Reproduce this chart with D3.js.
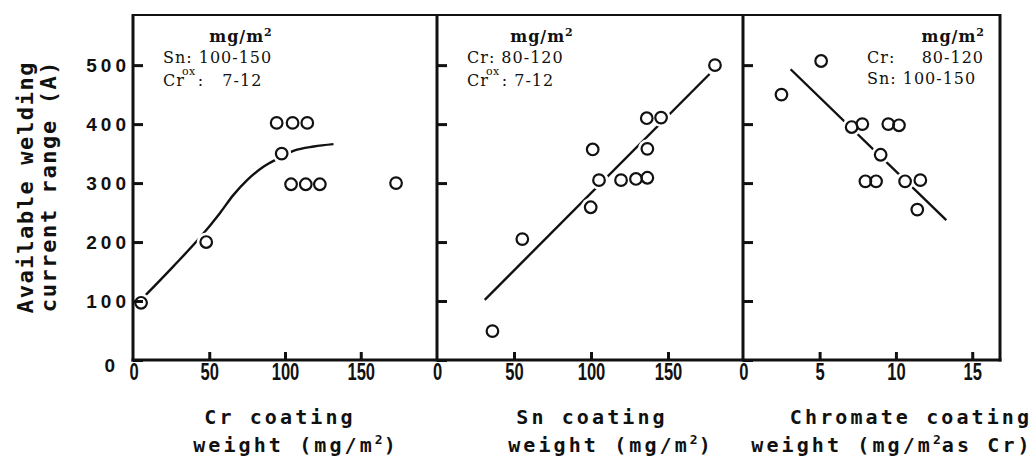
<!DOCTYPE html>
<html>
<head>
<meta charset="utf-8">
<script src="https://cdn.jsdelivr.net/npm/d3@7"></script>
<style>
body { margin: 0; background: #fff; }
.tick line { stroke: #111; stroke-width: 3; }
.ylab text { font-family: "Liberation Sans", Arial, sans-serif; font-weight: bold; font-size: 19px; letter-spacing: 4px; fill: #111; }
.xlab text { font-family: "Liberation Sans", sans-serif; font-weight: bold; font-size: 23px; fill: #111; }
.title { font-family: "DejaVu Sans Mono", monospace; font-weight: bold; font-size: 20px; letter-spacing: 3.1px; fill: #111; }
.note { font-family: "DejaVu Serif", serif; font-size: 16px; letter-spacing: 1px; fill: #111; }
</style>
</head>
<body>
<div id="container"></div>
<script>
const W = 1034, H = 459;

// panel 1: Cr coating weight
var crX = [5, 48, 94.5, 105, 114.7, 97.8, 104, 113.7, 123, 173.3];
var crY = [97, 200, 402, 402, 402, 350, 298, 298, 298, 300];
var crFitX = [8, 26, 44, 57, 66, 75, 86, 95, 106, 119, 132];
var crFitY = [110, 158, 208, 249, 280, 305, 328, 341, 355, 362, 366];

// panel 2: Sn coating weight
var snX = [180.5, 136.2, 145.5, 101.1, 136.6, 105.2, 119.5, 129.2, 136.6, 99.8, 55.4, 36];
var snY = [500, 410, 411, 357, 358, 305, 305, 307, 309, 259, 205, 49];
var snFitX = [31, 177];
var snFitY = [102, 485];

// panel 3: chromate coating weight
var chX = [5.1, 2.5, 7.1, 7.8, 9.5, 10.2, 9.0, 8.0, 8.7, 10.6, 11.6, 11.4];
var chY = [507, 450, 395, 400, 400, 398, 348, 303, 303, 303, 305, 255];
var chFitX = [3.1, 13.3];
var chFitY = [493, 237];

var yTicks = [0, 100, 200, 300, 400, 500];
var xTicksW = [0, 50, 100, 150];
var xTicksC = [0, 5, 10, 15];

var svg = d3.select("#container").append("svg")
	.attr("width", W)
	.attr("height", H);

var y = d3.scaleLinear().domain([0, 585]).range([360, 15]);

var panels = [
	{ x: d3.scaleLinear().domain([0, 200]).range([133.5, 436.5]), left: 133, right: 437, px: crX, py: crY, fx: crFitX, fy: crFitY, ticks: xTicksW, curve: d3.curveMonotoneX },
	{ x: d3.scaleLinear().domain([0, 200]).range([437, 745]), left: 437, right: 743, px: snX, py: snY, fx: snFitX, fy: snFitY, ticks: xTicksW, curve: d3.curveLinear },
	{ x: d3.scaleLinear().domain([0, 16.8]).range([743.3, 999.7]), left: 743, right: 1000, px: chX, py: chY, fx: chFitX, fy: chFitY, ticks: xTicksC, curve: d3.curveLinear }
];

// fitted lines
panels.forEach(p => {
	var line = d3.line()
		.x(d => p.x(d[0]))
		.y(d => y(d[1]))
		.curve(p.curve);
	svg.append("path")
		.attr("d", line(p.fx.map((v, i) => [v, p.fy[i]])))
		.attr("fill", "none")
		.attr("stroke", "#111")
		.attr("stroke-width", 2.4);
});

// white halos make the gaps in the lines around the circles
panels.forEach(p => {
	svg.selectAll(null)
		.data(p.px.map((v, i) => [v, p.py[i]]))
		.enter().append("circle")
		.attr("cx", d => p.x(d[0]))
		.attr("cy", d => y(d[1]))
		.attr("r", 9.5)
		.attr("fill", "#fff");
});

// frame
svg.append("line").attr("x1", 133).attr("x2", 1000).attr("y1", 15).attr("y2", 15)
	.attr("stroke", "#111").attr("stroke-width", 2);
svg.append("line").attr("x1", 131.5).attr("x2", 1001.5).attr("y1", 360).attr("y2", 360)
	.attr("stroke", "#111").attr("stroke-width", 3);
[133, 437, 743, 1000].forEach(xx => {
	svg.append("line").attr("x1", xx).attr("x2", xx).attr("y1", 14).attr("y2", 361.5)
		.attr("stroke", "#111").attr("stroke-width", 3);
});

// axes
panels.forEach((p, k) => {
	var gy = svg.append("g")
		.attr("class", "ylab")
		.attr("transform", "translate(" + p.left + ",0)")
		.call(d3.axisLeft(y).tickValues(yTicks).tickSize(-10).tickPadding(3));
	gy.select(".domain").remove();
	if (k > 0) gy.selectAll("text").remove();
	else gy.selectAll(".tick").filter(d => d == 0).select("text")
		.attr("x", -14).attr("dy", "0.6em");

	var gx = svg.append("g")
		.attr("class", "xlab")
		.attr("transform", "translate(0,360)")
		.call(d3.axisBottom(p.x).tickValues(p.ticks).tickSize(-8).tickPadding(3));
	gx.select(".domain").remove();
	gx.selectAll(".tick").filter(d => d == 0).select("line").remove();
	// tall narrow digits
	gx.selectAll(".tick text").attr("transform", "scale(0.72,1.05)");
});

// points
panels.forEach(p => {
	svg.selectAll(null)
		.data(p.px.map((v, i) => [v, p.py[i]]))
		.enter().append("circle")
		.attr("cx", d => p.x(d[0]))
		.attr("cy", d => y(d[1]))
		.attr("r", 5.8)
		.attr("fill", "none")
		.attr("stroke", "#111")
		.attr("stroke-width", 2.2);
});

// notes inside panels
function note(x, yy, s, anchor) {
	return svg.append("text")
		.attr("class", "note")
		.attr("x", x).attr("y", yy)
		.attr("text-anchor", anchor || "start")
		.style("white-space", "pre")
		.text(s);
}
function crox(x, yy, gap, rest) {
	var t = svg.append("text")
		.attr("class", "note")
		.attr("x", x).attr("y", yy)
		.style("white-space", "pre");
	t.append("tspan").text("Cr");
	t.append("tspan").attr("dx", -3).attr("dy", -11)
		.style("font-size", "11px").style("letter-spacing", "0.5px").text("ox");
	t.append("tspan").attr("dx", gap).attr("dy", 11).text(rest);
}
function unit(x, yy, anchor) {
	var t = svg.append("text")
		.attr("class", "note")
		.attr("x", x).attr("y", yy)
		.attr("text-anchor", anchor)
		.style("font-weight", "bold");
	t.append("tspan").text("mg/m");
	t.append("tspan").attr("dy", -6).style("font-size", "11px").text("2");
}

unit(241, 42, "middle");
note(163, 63, "Sn: 100-150");
crox(163, 86, 2, ":   7-12");

unit(542, 42, "middle");
note(467, 63, "Cr: 80-120");
crox(467, 86, 2, ": 7-12");

unit(985, 42, "end");
note(867, 63, "Cr:");
note(984, 63, "80-120", "end");
note(867, 84, "Sn: 100-150");

// y title
svg.append("text")
	.attr("class", "title")
	.attr("transform", "translate(33,187) rotate(-90)")
	.attr("text-anchor", "middle")
	.style("font-size", "22px").style("letter-spacing", "1.6px")
	.text("Available welding");
svg.append("text")
	.attr("class", "title")
	.attr("transform", "translate(56,186) rotate(-90)")
	.attr("text-anchor", "middle")
	.style("font-size", "22px").style("letter-spacing", "1.6px")
	.text("current range (A)");

// x titles
function title(x, yy, a, b) {
	var t = svg.append("text").attr("class", "title")
		.attr("x", x).attr("y", yy).attr("text-anchor", "middle");
	t.append("tspan").text(a);
	if (b != null) {
		t.append("tspan").attr("dy", -8).style("font-size", "13px").style("letter-spacing", "1px").text("2");
		t.append("tspan").attr("dy", 8).text(b);
	}
}
title(280, 424, "Cr coating");
title(296, 452, "weight (mg/m", ")");
title(592, 424, "Sn coating");
title(611, 452, "weight (mg/m", ")");
title(911, 424, "Chromate coating");
title(892, 452, "weight (mg/m", "as Cr)");
</script>
</body>
</html>
